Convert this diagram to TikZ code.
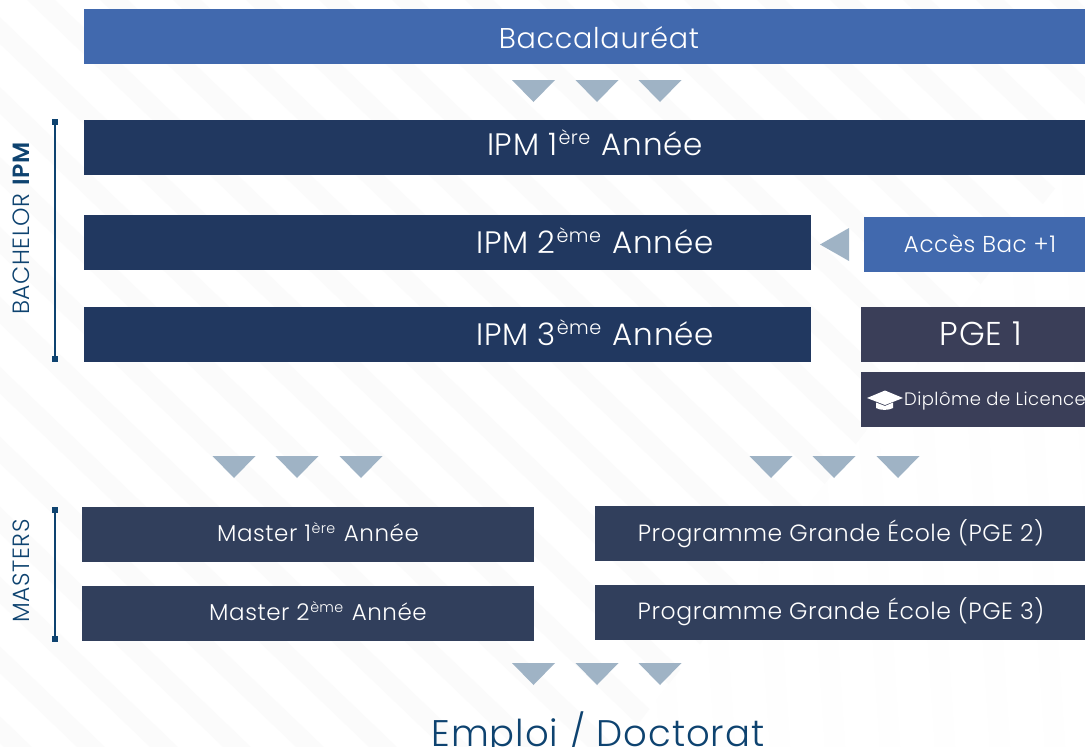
\documentclass[tikz,border=0pt]{standalone}
\usepackage{fontspec}
\setmainfont[BoldFont={Poppins SemiBold}]{Poppins Light}
\definecolor{bacblue}{HTML}{4169AE}
\definecolor{ipmnavy}{HTML}{213860}
\definecolor{slatebox}{HTML}{3A3E58}
\definecolor{masterbox}{HTML}{313F5C}
\definecolor{arrowgrey}{HTML}{9FB3C5}
\definecolor{barblue}{HTML}{0E4370}
\definecolor{stripe}{HTML}{FBFBFB}
\definecolor{streak}{HTML}{FEFEFE}
\newcommand{\expo}[1]{\hspace{0.03em}\raisebox{0.34em}{\fontsize{0.62em}{0.62em}\selectfont #1}\hspace{0.07em}}
\newcommand{\fs}[1]{\fontsize{#1}{#1}\selectfont\addfontfeature{LetterSpace=2.5}}
\tikzset{
  x=1pt,y=-1pt,
  block/.style={anchor=north west,inner sep=0,outer sep=0,draw=none},
  lbl/.style={text=white,inner sep=0,anchor=base},
  tri/.style={fill=arrowgrey,draw=none},
  sidelabel/.style={text=barblue,rotate=90,inner sep=0,anchor=base,font=\fs{23.5}},
  barline/.style={draw=barblue,line width=2pt},
  barend/.style={fill=barblue,draw=none},
}
\newcommand{\tridown}[2]{\path[tri] (#1-21.5,#2) -- (#1+21.5,#2) -- (#1,#2+22) -- cycle;}
\begin{document}
\begin{tikzpicture}
\useasboundingbox (0,0) rectangle (1085,747);
\fill[white] (0,0) rectangle (1085,747);
\begin{scope}
\clip (0,0) -- (1085,0) -- (1085,150) -- (620,747) -- (0,747) -- cycle;
\foreach \i in {-14,...,14} {
  \fill[stripe] ({\i*73+100},0) -- ({\i*73+128},0) -- ({\i*73+128+780},747) -- ({\i*73+100+780},747) -- cycle;
}
\end{scope}
\begin{scope}
\clip (1085,150) -- (620,747) -- (1085,747) -- cycle;
\foreach \i in {0,...,9} {
  \fill[streak] ({620+\i*55},150) -- ({640+\i*55},150) -- ({680+\i*55},747) -- ({660+\i*55},747) -- cycle;
}
\end{scope}

% bars
\node[block,fill=bacblue,minimum width=1001pt,minimum height=55pt] (bac) at (84,9) {};
\node[block,fill=ipmnavy,minimum width=1001pt,minimum height=55pt] (ipm1) at (84,120) {};
\node[block,fill=ipmnavy,minimum width=727pt,minimum height=55pt] (ipm2) at (84,215) {};
\node[block,fill=ipmnavy,minimum width=727pt,minimum height=55pt] (ipm3) at (84,307) {};
\node[block,fill=bacblue,minimum width=221pt,minimum height=55pt] (acces) at (864,217) {};
\node[block,fill=slatebox,minimum width=224pt,minimum height=55pt] (pge1) at (861,307) {};
\node[block,fill=slatebox,minimum width=224pt,minimum height=55pt] (lic) at (861,372) {};
\node[block,fill=masterbox,minimum width=452pt,minimum height=55pt] (m1) at (82,507) {};
\node[block,fill=masterbox,minimum width=452pt,minimum height=55pt] (m2) at (82,586) {};
\node[block,fill=masterbox,minimum width=490pt,minimum height=55pt] (pge2) at (595,506) {};
\node[block,fill=masterbox,minimum width=490pt,minimum height=55pt] (pge3) at (595,585) {};

% texts
\node[lbl,font=\fs{28.6}] (tbac) at (599,48) {Baccalauréat};
\node[lbl,font=\fs{31}] (tipm1) at (595,155) {IPM 1\expo{ère} Année};
\node[lbl,font=\fs{31}] (tipm2) at (595,253) {IPM 2\expo{ème} Année};
\node[lbl,font=\fs{31}] (tipm3) at (595,345) {IPM 3\expo{ème} Année};
\node[lbl,font=\fs{23}] (tacces) at (980,252.5) {Accès Bac +1};
\node[lbl,font=\fs{33}] (tpge1) at (981,345) {PGE 1};
\node[lbl,font=\fs{18}] (tlic) at (995,405.5) {Diplôme de Licence};
\node[lbl,font=\fs{23}] (tm1) at (318,541) {Master 1\expo{ère} Année};
\node[lbl,font=\fs{23}] (tm2) at (318,620) {Master 2\expo{ème} Année};
\node[lbl,font=\fs{23.5}] (tpge2) at (841,541) {Programme Grande École (PGE 2)};
\node[lbl,font=\fs{23.5}] (tpge3) at (841,619) {Programme Grande École (PGE 3)};
\node[inner sep=0,text=barblue,font=\fs{37},anchor=base] (emploi) at (598,746) {Emploi / Doctorat};

% side labels
\node[sidelabel] (bach) at (30,228.5) {BACHELOR \textbf{IPM}};
\node[sidelabel] (mast) at (30,571) {MASTERS};

% side brackets
\coordinate (bt) at (54.5,122);
\coordinate (bb) at (54.5,359);
\coordinate (mt) at (54.5,510);
\coordinate (mb) at (54.5,639);
\draw[barline] (bt) -- (bb);
\draw[barline] (mt) -- (mb);
\fill[barend] (52,119) rectangle (58,125);
\fill[barend] (52,356) rectangle (58,362);
\fill[barend] (52,507) rectangle (58,513);
\fill[barend] (52,636) rectangle (58,642);

% triangles
\tridown{533.5}{80}\tridown{597}{80}\tridown{660}{80}
\tridown{234}{456}\tridown{297}{456}\tridown{361}{456}
\tridown{771}{456}\tridown{834}{456}\tridown{898}{456}
\tridown{533.5}{663}\tridown{597}{663}\tridown{660}{663}
\path[tri] (849,228) -- (849,261) -- (820,244.5) -- cycle;

% graduation cap
\fill[white] (867,398) -- (885,390.5) -- (903,398) -- (885,405) -- cycle;
\fill[white] (876,402.5) -- (885,406) -- (893,402.5) -- (893,408) .. controls (889,410.5) and (880,410.5) .. (876,408) -- cycle;
\end{tikzpicture}
\end{document}
